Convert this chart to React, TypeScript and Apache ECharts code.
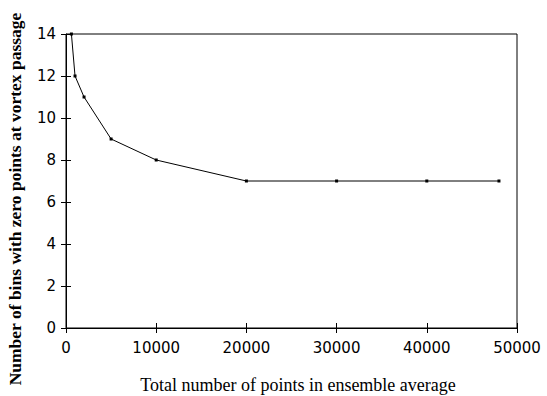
import React, { useEffect, useRef } from "react";
import * as echarts from "echarts";

const xValues = [600, 1000, 2000, 5000, 10000, 20000, 30000, 40000, 48000];
const yValues = [14, 12, 11, 9, 8, 7, 7, 7, 7];
const xTitle = "Total number of points in ensemble average";
const yTitle = "Number of bins with zero points at vortex passage";

export default function App() {
  const ref = useRef<HTMLDivElement>(null);
  useEffect(() => {
    if (!ref.current) return;
    const chart = echarts.init(ref.current, null, { renderer: "svg" });
    const tickFont = { fontFamily: "DejaVu Sans", fontSize: 15, color: "#000" };
    const axisBase = {
      type: "value" as const,
      axisLine: { show: true, onZero: false, lineStyle: { color: "#000", width: 1 } },
      splitLine: { show: false },
    };
    chart.setOption({
      animation: false,
      backgroundColor: "#fff",
      grid: {
        left: 66,
        right: 30,
        top: 34,
        bottom: 68,
        show: true,
        borderColor: "#000",
        borderWidth: 1,
        backgroundColor: "transparent",
      },
      xAxis: [
        {
          ...axisBase,
          min: 0,
          max: 50000,
          interval: 10000,
          axisTick: { show: true, inside: false, length: 5, lineStyle: { color: "#000" } },
          axisLabel: { ...tickFont, margin: 12, formatter: (v: number) => String(v) },
        },
        {
          ...axisBase,
          position: "bottom",
          min: 0,
          max: 50000,
          interval: 10000,
          axisLine: { show: false },
          axisTick: { show: true, inside: true, length: 5, lineStyle: { color: "#000" } },
          axisLabel: { show: false },
        },
      ],
      yAxis: [
        {
          ...axisBase,
          min: 0,
          max: 14,
          interval: 2,
          axisTick: { show: true, inside: false, length: 5, lineStyle: { color: "#000" } },
          axisLabel: { ...tickFont, margin: 10 },
        },
        {
          ...axisBase,
          position: "left",
          min: 0,
          max: 14,
          interval: 2,
          axisLine: { show: false },
          axisTick: { show: true, inside: true, length: 5, lineStyle: { color: "#000" } },
          axisLabel: { show: false },
        },
      ],
      graphic: [
        {
          type: "text",
          x: 298,
          y: 385,
          style: {
            text: xTitle,
            fontFamily: "Liberation Serif",
            fontSize: 18,
            fill: "#000",
            align: "center",
            verticalAlign: "middle",
          },
        },
        {
          type: "text",
          x: 15,
          y: 199,
          rotation: Math.PI / 2,
          style: {
            text: yTitle,
            fontFamily: "Liberation Serif",
            fontSize: 17.5,
            fontWeight: "bold",
            fill: "#000",
            align: "center",
            verticalAlign: "middle",
          },
        },
      ],
      series: [
        {
          type: "line",
          xAxisIndex: 0,
          yAxisIndex: 0,
          data: xValues.map((x, i) => [x, yValues[i]]),
          smooth: false,
          symbol: "rect",
          symbolSize: 3,
          itemStyle: { color: "#000" },
          lineStyle: { color: "#000", width: 1 },
        },
      ],
    });
    return () => chart.dispose();
  }, []);
  return (
    <div
      ref={ref}
      style={{ position: "fixed", left: 0, top: 0, width: 547, height: 396 }}
    />
  );
}
